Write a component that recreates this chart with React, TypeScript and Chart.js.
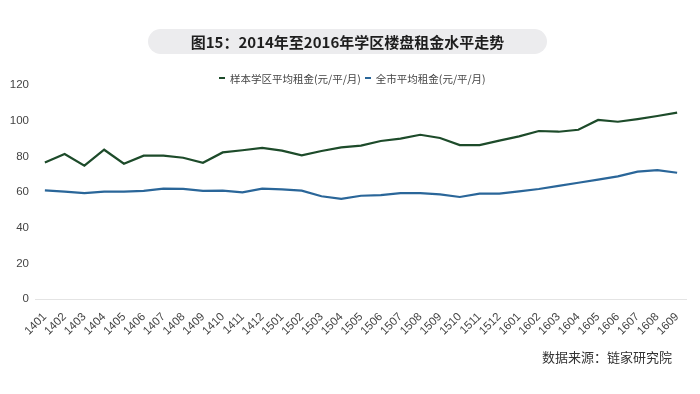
import React, { useEffect, useRef } from "react";
import { Chart, registerables } from "chart.js";

Chart.register(...registerables);

const categories = [
  "1401", "1402", "1403", "1404", "1405", "1406", "1407", "1408", "1409", "1410", "1411", "1412",
  "1501", "1502", "1503", "1504", "1505", "1506", "1507", "1508", "1509", "1510", "1511", "1512",
  "1601", "1602", "1603", "1604", "1605", "1606", "1607", "1608", "1609",
];

const schoolRent = [
  76.6, 81.3, 74.8, 83.7, 75.9, 80.4, 80.4, 79.2, 76.4, 82.2, 83.4, 84.7,
  83.2, 80.6, 83.0, 85.0, 86.0, 88.6, 89.9, 92.1, 90.3, 86.3, 86.3, 88.8,
  91.2, 94.2, 93.8, 94.9, 100.4, 99.4, 100.9, 102.6, 104.5,
];

const cityRent = [
  60.9, 60.2, 59.4, 60.2, 60.2, 60.6, 61.9, 61.7, 60.6, 60.8, 59.8, 61.9,
  61.5, 60.8, 57.6, 56.2, 57.9, 58.3, 59.4, 59.4, 58.7, 57.2, 59.1, 59.1,
  60.4, 61.7, 63.4, 65.2, 66.9, 68.8, 71.4, 72.3, 70.8,
];

const seriesNames = ["样本学区平均租金(元/平/月)", "全市平均租金(元/平/月)"];
const yTicks = [0, 20, 40, 60, 80, 100, 120];

const GREEN = "#1d4b2a";
const BLUE = "#2a6699";
const CJK = "'Noto Sans CJK SC', 'Noto Sans', sans-serif";

export default function App() {
  const ref = useRef<HTMLCanvasElement | null>(null);

  useEffect(() => {
    if (!ref.current) return;
    const chart = new Chart(ref.current, {
      type: "line",
      data: {
        labels: categories,
        datasets: [
          {
            label: seriesNames[0],
            data: schoolRent,
            borderColor: GREEN,
            backgroundColor: GREEN,
            borderWidth: 2.2,
            pointRadius: 0,
            tension: 0,
          },
          {
            label: seriesNames[1],
            data: cityRent,
            borderColor: BLUE,
            backgroundColor: BLUE,
            borderWidth: 2.2,
            pointRadius: 0,
            tension: 0,
          },
        ],
      },
      options: {
        responsive: false,
        animation: false,
        layout: { padding: { top: 85, right: 13, bottom: 50, left: 0 } },
        plugins: {
          legend: { display: false },
          title: { display: false },
          tooltip: { enabled: false },
        },
        scales: {
          x: {
            offset: true,
            grid: { display: false },
            border: { display: false },
            ticks: {
              autoSkip: false,
              minRotation: 45,
              maxRotation: 45,
              padding: 3,
              color: "#444",
              font: { family: "'Liberation Sans', Arial, sans-serif", size: 11.5 },
            },
            afterFit: (s: any) => {
              s.height = 45;
            },
          },
          y: {
            min: 0,
            max: 120,
            afterBuildTicks: (s: any) => {
              s.ticks = yTicks.map((v) => ({ value: v }));
            },
            grid: {
              drawTicks: false,
              color: (ctx: any) => (ctx.tick && ctx.tick.value === 0 ? "#e4e4e4" : "rgba(0,0,0,0)"),
            },
            border: { display: false },
            ticks: {
              padding: 6,
              color: "#444",
              font: { family: "'Liberation Sans', Arial, sans-serif", size: 11.5 },
            },
            afterFit: (s: any) => {
              s.width = 35;
            },
          },
        },
      },
    });
    return () => chart.destroy();
  }, []);

  return (
    <div
      style={{
        position: "absolute",
        left: 0,
        top: 0,
        width: 700,
        height: 394,
        background: "#fff",
        overflow: "hidden",
      }}
    >
      <canvas ref={ref} width={700} height={394} style={{ position: "absolute", left: 0, top: 0, width: 700, height: 394 }} />
      <div
        style={{
          position: "absolute",
          left: 148,
          top: 29,
          width: 399,
          height: 25,
          borderRadius: 13,
          background: "#ececee",
          color: "#1e1e1e",
          fontFamily: CJK,
          fontWeight: 700,
          fontSize: 15,
          lineHeight: "25px",
          textAlign: "center",
        }}
      >
        图15：2014年至2016年学区楼盘租金水平走势
      </div>
      <div
        style={{
          position: "absolute",
          left: 219,
          top: 70,
          height: 16,
          display: "flex",
          alignItems: "center",
          fontFamily: CJK,
          fontSize: 10.5,
          color: "#444",
          whiteSpace: "nowrap",
        }}
      >
        <span style={{ display: "inline-block", width: 6, height: 2, background: GREEN, marginRight: 5 }} />
        <span>{seriesNames[0]}</span>
        <span style={{ display: "inline-block", width: 6, height: 2, background: BLUE, marginLeft: 4, marginRight: 5 }} />
        <span>{seriesNames[1]}</span>
      </div>
      <div
        style={{
          position: "absolute",
          right: 28,
          top: 348,
          fontFamily: CJK,
          fontSize: 13,
          lineHeight: "18px",
          color: "#333",
          whiteSpace: "nowrap",
        }}
      >
        数据来源：链家研究院
      </div>
    </div>
  );
}
